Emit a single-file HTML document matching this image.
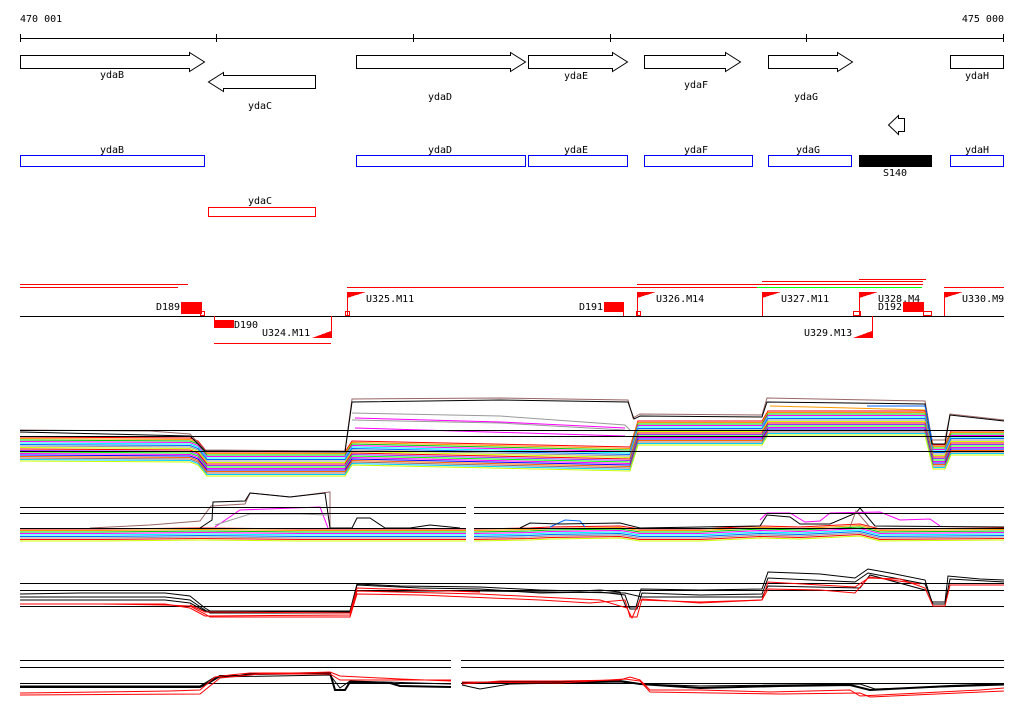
<!DOCTYPE html>
<html><head><meta charset="utf-8"><style>
html,body{margin:0;padding:0;background:#fff;}
svg{display:block;}
text{font-family:"DejaVu Sans Mono","Liberation Mono",monospace;font-size:10px;fill:#000;}
</style></head><body>
<svg width="1024" height="714" viewBox="0 0 1024 714" xmlns="http://www.w3.org/2000/svg" shape-rendering="crispEdges">
<text x="20" y="22">470 001</text>
<text x="1004" y="22" text-anchor="end">475 000</text>
<g stroke="#000" stroke-width="1">
<line x1="20" y1="38.5" x2="1004" y2="38.5"/>
<line x1="20.5" y1="34" x2="20.5" y2="42"/><line x1="216.5" y1="34" x2="216.5" y2="42"/><line x1="413.5" y1="34" x2="413.5" y2="42"/><line x1="610.5" y1="34" x2="610.5" y2="42"/><line x1="806.5" y1="34" x2="806.5" y2="42"/><line x1="1003.5" y1="34" x2="1003.5" y2="42"/>
</g>
<g fill="#fff" stroke="#000" stroke-width="1" shape-rendering="auto">
<polygon points="20.5,55.5 189.5,55.5 189.5,52.5 204.5,62 189.5,71.5 189.5,68.5 20.5,68.5"/>
<polygon points="315.5,75.5 223.5,75.5 223.5,72.5 208.5,82 223.5,91.5 223.5,88.5 315.5,88.5"/>
<polygon points="356.5,55.5 510.5,55.5 510.5,52.5 525.5,62 510.5,71.5 510.5,68.5 356.5,68.5"/>
<polygon points="528.5,55.5 612.5,55.5 612.5,52.5 627.5,62 612.5,71.5 612.5,68.5 528.5,68.5"/>
<polygon points="644.5,55.5 725.5,55.5 725.5,52.5 740.5,62 725.5,71.5 725.5,68.5 644.5,68.5"/>
<polygon points="768.5,55.5 837.5,55.5 837.5,52.5 852.5,62 837.5,71.5 837.5,68.5 768.5,68.5"/>
<polygon points="950.5,55.5 1003.5,55.5 1003.5,68.5 950.5,68.5"/>
<polygon points="904.5,118.5 898.5,118.5 898.5,115.5 888.5,125 898.5,134.5 898.5,131.5 904.5,131.5"/>
</g>
<text x="112" y="78" text-anchor="middle">ydaB</text>
<text x="260" y="109" text-anchor="middle">ydaC</text>
<text x="440" y="100" text-anchor="middle">ydaD</text>
<text x="576" y="79" text-anchor="middle">ydaE</text>
<text x="696" y="88" text-anchor="middle">ydaF</text>
<text x="806" y="100" text-anchor="middle">ydaG</text>
<text x="977" y="79" text-anchor="middle">ydaH</text>
<g fill="none" stroke="#0000ff" stroke-width="1">
<rect x="20.5" y="155.5" width="184" height="11"/>
<rect x="356.5" y="155.5" width="169" height="11"/>
<rect x="528.5" y="155.5" width="99" height="11"/>
<rect x="644.5" y="155.5" width="108" height="11"/>
<rect x="768.5" y="155.5" width="83" height="11"/>
<rect x="950.5" y="155.5" width="53" height="11"/>
</g>
<rect x="859" y="155" width="73" height="12" fill="#000"/>
<rect x="208.5" y="207.5" width="107" height="9" fill="none" stroke="#ff0000"/>
<text x="112" y="153" text-anchor="middle">ydaB</text>
<text x="440" y="153" text-anchor="middle">ydaD</text>
<text x="576" y="153" text-anchor="middle">ydaE</text>
<text x="696" y="153" text-anchor="middle">ydaF</text>
<text x="808" y="153" text-anchor="middle">ydaG</text>
<text x="895" y="176" text-anchor="middle">S140</text>
<text x="977" y="153" text-anchor="middle">ydaH</text>
<text x="260" y="204" text-anchor="middle">ydaC</text>
<g stroke="#ff0000" stroke-width="1">
<line x1="20" y1="284.5" x2="188" y2="284.5"/>
<line x1="20" y1="287.5" x2="178" y2="287.5"/>
<line x1="347" y1="287.5" x2="758" y2="287.5"/>
<line x1="944" y1="287.5" x2="1004" y2="287.5"/>
<line x1="637" y1="284.5" x2="923" y2="284.5"/>
<line x1="762" y1="281.5" x2="923" y2="281.5"/>
<line x1="859" y1="279.5" x2="926" y2="279.5"/>
<line x1="214" y1="343.5" x2="331" y2="343.5"/>
</g>
<line x1="757" y1="287.5" x2="922" y2="287.5" stroke="#00ff00"/>
<line x1="20" y1="316.5" x2="1004" y2="316.5" stroke="#000"/>
<g fill="#ff0000">
<rect x="181" y="302" width="21" height="12"/>
<rect x="214" y="320" width="20" height="8"/>
<rect x="604" y="302" width="20" height="10"/>
<rect x="903" y="302" width="21" height="10"/>
<polygon points="347,292 366,292 347,298"/>
<polygon points="637,292 656,292 637,298"/>
<polygon points="762,292 781,292 762,298"/>
<polygon points="859,292 878,292 859,298"/>
<polygon points="944,292 963,292 944,298"/>
<polygon points="331,338 331,331 312,338"/>
<polygon points="872,338 872,331 853,338"/>
</g>
<g stroke="#ff0000" fill="none">
<line x1="347.5" y1="292" x2="347.5" y2="316"/>
<line x1="637.5" y1="292" x2="637.5" y2="316"/>
<line x1="762.5" y1="292" x2="762.5" y2="316"/>
<line x1="859.5" y1="292" x2="859.5" y2="316"/>
<line x1="944.5" y1="292" x2="944.5" y2="316"/>
<line x1="214.5" y1="316" x2="214.5" y2="328"/>
<line x1="331.5" y1="316" x2="331.5" y2="338"/>
<line x1="872.5" y1="316" x2="872.5" y2="338"/>
<line x1="623.5" y1="302" x2="623.5" y2="316"/>
<rect x="200.5" y="311.5" width="4" height="4"/>
<rect x="345.5" y="311.5" width="4" height="4"/>
<rect x="636.5" y="311.5" width="4" height="4"/>
<rect x="853.5" y="311.5" width="7" height="4"/>
<rect x="923.5" y="311.5" width="8" height="4"/>
</g>
<text x="156" y="310">D189</text>
<text x="234" y="328">D190</text>
<text x="262" y="336">U324.M11</text>
<text x="366" y="302">U325.M11</text>
<text x="579" y="310">D191</text>
<text x="656" y="302">U326.M14</text>
<text x="781" y="302">U327.M11</text>
<text x="878" y="302">U328.M4</text>
<text x="878" y="310">D192</text>
<text x="804" y="336">U329.M13</text>
<text x="962" y="302">U330.M9</text>

<defs>
<polyline id="s1" fill="none" points="20,437 190,438 198,441 207,452 345,452 352,441 630,447 638,421 762,421 768,411 925,411 933,445 945,445 951,431 1004,431"/>
<polyline id="s2a" fill="none" points="20,529 100,529 200,528 300,529 466,529"/>
<polyline id="s2b" fill="none" points="474,529 530,528 550,527 620,526 640,529 700,529 760,526 800,527 860,524 880,529 1004,528"/>
</defs>
<g stroke-width="1" shape-rendering="auto">
<use href="#s1" stroke="#ff0000"/>
<use href="#s1" stroke="#ff9900" transform="translate(0,1.5)"/>
<use href="#s1" stroke="#00cc00" transform="translate(0,3)"/>
<use href="#s1" stroke="#ff00ff" transform="translate(0,4.5)"/>
<use href="#s1" stroke="#00ffff" transform="translate(0,6)"/>
<use href="#s1" stroke="#0066ff" transform="translate(0,7.5)"/>
<use href="#s1" stroke="#999999" transform="translate(0,9)"/>
<use href="#s1" stroke="#ccff00" transform="translate(0,10.5)"/>
<use href="#s1" stroke="#ff0000" transform="translate(0,12)"/>
<use href="#s1" stroke="#9933ff" transform="translate(0,13.5)"/>
<use href="#s1" stroke="#00ff00" transform="translate(0,15)"/>
<use href="#s1" stroke="#ff00ff" transform="translate(0,16.5)"/>
<use href="#s1" stroke="#0000ff" transform="translate(0,18)"/>
<use href="#s1" stroke="#ff6600" transform="translate(0,19.5)"/>
<use href="#s1" stroke="#996666" transform="translate(0,21)"/>
<use href="#s1" stroke="#00ccff" transform="translate(0,22.5)"/>
<use href="#s1" stroke="#ccff00" transform="translate(0,24)"/>
<polyline fill="none" stroke="#996666" points="20,430 150,431 190,434 205,450 345,451 352,399 500,398 628,400 633,418 640,414 762,415 767,398 925,401 932,440 945,440 950,414 1004,420"/>
<polyline fill="none" stroke="#000" points="20,432 190,436 205,451 345,452 352,402 500,400 628,402 634,419 640,416 762,417 767,402 925,404 932,444 945,444 950,415 1004,421"/>
<polyline fill="none" stroke="#999999" points="352,413 500,416 625,425 630,430"/>
<polyline fill="none" stroke="#999999" points="352,420 500,423 625,430"/>
<polyline fill="none" stroke="#ff00ff" points="355,418 500,422 625,428"/>
<polyline fill="none" stroke="#ff00ff" points="355,428 625,436"/>
<polyline fill="none" stroke="#0066ff" points="867,406 925,406 932,440"/>
<polyline fill="none" stroke="#ff9900" points="770,406 850,408 925,410"/>
</g>
<g stroke="#000" stroke-width="1">
<line x1="20" y1="430.5" x2="1004" y2="430.5"/>
<line x1="20" y1="436.5" x2="1004" y2="436.5"/>
<line x1="20" y1="451.5" x2="1004" y2="451.5"/>
</g>
<g stroke-width="1" shape-rendering="auto">
<use href="#s2a" stroke="#ff0000"/>
<use href="#s2a" stroke="#ff9900" transform="translate(0,1.5)"/>
<use href="#s2a" stroke="#00cc00" transform="translate(0,3)"/>
<use href="#s2a" stroke="#ff00ff" transform="translate(0,4.5)"/>
<use href="#s2a" stroke="#00ffff" transform="translate(0,6)"/>
<use href="#s2a" stroke="#0066ff" transform="translate(0,7.5)"/>
<use href="#s2a" stroke="#999999" transform="translate(0,9)"/>
<use href="#s2a" stroke="#ff0000" transform="translate(0,10.5)"/>
<use href="#s2a" stroke="#ccff00" transform="translate(0,12)"/>
<use href="#s2b" stroke="#ff0000"/>
<use href="#s2b" stroke="#ff9900" transform="translate(0,1.5)"/>
<use href="#s2b" stroke="#00cc00" transform="translate(0,3)"/>
<use href="#s2b" stroke="#ff00ff" transform="translate(0,4.5)"/>
<use href="#s2b" stroke="#00ffff" transform="translate(0,6)"/>
<use href="#s2b" stroke="#0066ff" transform="translate(0,7.5)"/>
<use href="#s2b" stroke="#999999" transform="translate(0,9)"/>
<use href="#s2b" stroke="#ff0000" transform="translate(0,10.5)"/>
<use href="#s2b" stroke="#ccff00" transform="translate(0,12)"/>
<polyline fill="none" stroke="#996666" points="90,528 150,525 200,521 211,506 245,504 250,493 290,497 330,492 330,528"/>
<polyline fill="none" stroke="#000" points="200,528 212,520 213,502 245,501 250,493 290,497 325,493 330,528 352,528 357,518 370,518 385,528 410,528 430,525 460,528"/>
<polyline fill="none" stroke="#ff00ff" points="215,527 240,510 320,507 328,528"/>
<polyline fill="none" stroke="#999999" points="215,525 250,514 300,514 327,515"/>
<polyline fill="none" stroke="#0066ff" points="550,527 565,520 580,521 585,527"/>
<polyline fill="none" stroke="#000" points="520,528 530,523 560,524 620,523 640,528 760,526 767,515 790,517 800,524 830,524 856,513 860,508 875,526 1004,527"/>
<polyline fill="none" stroke="#ff00ff" points="760,520 767,513 790,513 805,522 820,521 830,513 880,512 900,520 930,519 940,526"/>
<polyline fill="none" stroke="#996666" points="850,527 856,511 870,527"/>
</g>
<g stroke="#000" stroke-width="1">
<line x1="20" y1="507.5" x2="466" y2="507.5"/><line x1="474" y1="507.5" x2="1004" y2="507.5"/>
<line x1="20" y1="513.5" x2="466" y2="513.5"/><line x1="474" y1="513.5" x2="1004" y2="513.5"/>
<line x1="20" y1="528.5" x2="466" y2="528.5"/><line x1="474" y1="528.5" x2="1004" y2="528.5"/>
</g>
<g stroke="#000" stroke-width="1">
<line x1="20" y1="583.5" x2="1004" y2="583.5"/>
<line x1="20" y1="590.5" x2="1004" y2="590.5"/>
<line x1="20" y1="606.5" x2="1004" y2="606.5"/>
</g>
<g fill="none" stroke-width="1" shape-rendering="auto">
<polyline stroke="#000" points="20,594 80,593 165,593 190,596 205,608 210,611 350,611 357,584 400,586 480,587 540,590 580,591 600,590 620,592 626,607 636,607 641,589 700,590 762,589 768,572 820,574 855,578 868,569 890,573 925,580 932,602 945,602 948,576 980,579 1004,580"/>
<polyline stroke="#000" points="20,597 80,597 165,597 190,600 205,610 210,613 350,613 357,585 420,588 480,589 540,593 600,592 625,595 630,609 637,609 642,593 700,595 762,594 768,578 855,582 868,573 925,584 933,604 945,604 950,579 1004,582"/>
<polyline stroke="#000" points="20,600 165,600 190,603 205,611 350,612 357,591 480,591 625,593 642,597 762,597 768,586 860,588 870,575 925,590"/>
<polyline stroke="#ff0000" points="20,604 100,604 165,605 190,606 205,614 210,617 350,617 357,594 420,595 540,600 590,603 625,600 630,617 637,617 642,599 700,603 762,600 768,589 820,590 855,593 868,578 900,579 925,588 933,606 945,606 950,585 1004,585"/>
<polyline stroke="#ff0000" points="20,604 165,604 190,608 205,616 350,615 357,591 480,594 600,600 627,608 632,618 640,600 700,602 762,600 768,582 855,587 870,577 920,584"/>
<polyline stroke="#ff0000" points="190,605 205,612 350,613 357,588 480,592"/>
</g>
<g stroke="#000" stroke-width="1">
<line x1="20" y1="660.5" x2="451" y2="660.5"/><line x1="461" y1="660.5" x2="1004" y2="660.5"/>
<line x1="20" y1="667.5" x2="451" y2="667.5"/><line x1="461" y1="667.5" x2="1004" y2="667.5"/>
<line x1="20" y1="683.5" x2="451" y2="683.5"/><line x1="461" y1="683.5" x2="1004" y2="683.5"/>
</g>
<g fill="none" stroke-width="1" shape-rendering="auto">
<polyline stroke="#000" stroke-width="2" points="20,687 200,687 210,682 220,676 240,676 250,674 330,673 335,690 345,690 350,682 390,683 400,686 451,687"/>
<polyline stroke="#000" points="20,686 200,686 215,677 330,675 340,688 350,681 451,684"/>
<polyline stroke="#ff0000" points="20,693 100,692 170,691 200,690 215,677 230,675 250,673 300,673 330,672 340,676 400,679 451,681"/>
<polyline stroke="#ff0000" points="20,695 200,694 220,678 260,674 330,674 340,680 451,680"/>
<polyline stroke="#000" stroke-width="2" points="462,683 530,682 620,681 640,684 700,688 780,686 850,685 870,690 950,686 1004,684"/>
<polyline stroke="#000" points="462,685 480,689 510,684 620,682 640,684 700,686 860,684 875,689 1004,685"/>
<polyline stroke="#ff0000" points="462,684 500,681 560,681 620,680 630,677 640,680 650,690 700,690 770,692 850,690 860,696 900,694 980,690 1004,688"/>
<polyline stroke="#ff0000" points="462,682 560,683 625,679 640,681 650,692 780,694 860,693 870,697 1004,691"/>
</g>
</svg>
</body></html>
